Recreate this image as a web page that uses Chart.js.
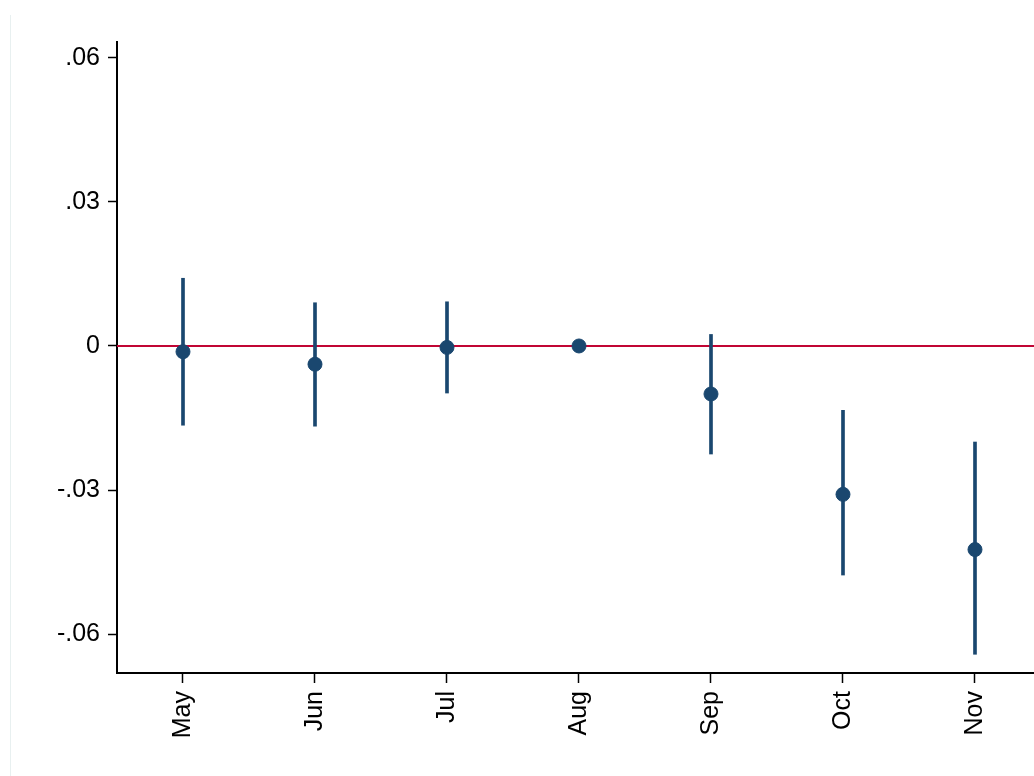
<!DOCTYPE html>
<html>
<head>
<meta charset="utf-8">
<script src="https://cdn.jsdelivr.net/npm/chart.js@4.4.1/dist/chart.umd.min.js"></script>
<style>
  html, body { margin: 0; padding: 0; background: #fff; overflow: hidden; }
  #wrap { position: relative; width: 1034px; height: 776px; overflow: hidden; }
  #edge { position: absolute; left: 10px; top: 15px; bottom: 0; width: 1px; background: #e8f0f0; }
  /* the plot runs past the right edge, so the canvas is a bit wider than the frame */
  #coefChart { position: absolute; left: 0; top: 0; }
</style>
</head>
<body>
<div id="wrap">
  <div id="edge"></div>
  <canvas id="coefChart" width="1042" height="776"></canvas>
</div>
<script>
// Event-study coefficients by month, with confidence bounds
const months = ['May', 'Jun', 'Jul', 'Aug', 'Sep', 'Oct', 'Nov'];
const estimates = [-0.0012, -0.0038, -0.0003, 0, -0.0100, -0.0309, -0.0424];
const ciLower = [-0.0165, -0.0167, -0.0098, null, -0.0225, -0.0477, -0.0642];
const ciUpper = [0.0141, 0.0090, 0.0092, null, 0.0024, -0.0134, -0.0200];
const yTicks = [-0.06, -0.03, 0, 0.03, 0.06];
const refLine = 0;

const navy = '#1a476f';
const cranberry = '#c10534';
const tickFont = { family: 'Liberation Sans, Arial, sans-serif', size: 25 };

function fmtTick(v) {
    if (Math.abs(v) < 1e-9) return '0';
    return v.toFixed(2).replace('0.', '.');
}

// horizontal reference line at zero, behind the markers
const zeroLine = {
    id: 'zeroLine',
    beforeDatasetsDraw(chart) {
        const { ctx, chartArea, scales } = chart;
        const y = scales.y.getPixelForValue(refLine);
        ctx.save();
        ctx.strokeStyle = cranberry;
        ctx.lineWidth = 2;
        ctx.beginPath();
        ctx.moveTo(chartArea.left, y);
        ctx.lineTo(chart.width, y);
        ctx.stroke();
        ctx.restore();
    }
};

const ctx = document.getElementById('coefChart').getContext('2d');

new Chart(ctx, {
    data: {
        datasets: [
            {
                type: 'bar',
                data: months.map((m, i) => ({ x: i, y: ciLower[i] === null ? null : [ciLower[i], ciUpper[i]] })),
                backgroundColor: navy,
                borderWidth: 0,
                barThickness: 3,
                order: 2
            },
            {
                type: 'scatter',
                data: months.map((m, i) => ({ x: i, y: estimates[i] })),
                backgroundColor: navy,
                borderColor: navy,
                pointRadius: 7,
                pointHoverRadius: 7,
                order: 1
            }
        ]
    },
    options: {
        responsive: false,
        animation: false,
        layout: { padding: { top: 42, left: 0, right: 0, bottom: 0 } },
        plugins: {
            legend: { display: false },
            tooltip: { enabled: false }
        },
        scales: {
            x: {
                type: 'linear',
                min: -0.5,
                max: 6.447,
                offset: false,
                afterBuildTicks: axis => { axis.ticks = months.map((m, i) => ({ value: i })); },
                afterFit: axis => {
                    axis.height = 103;
                    axis.paddingLeft = 0;
                    axis.paddingRight = 0;
                },
                ticks: {
                    callback: v => months[v],
                    color: '#000',
                    font: tickFont,
                    minRotation: 90,
                    maxRotation: 90,
                    padding: 8
                },
                grid: {
                    offset: false,
                    drawOnChartArea: false,
                    drawTicks: true,
                    tickLength: 10,
                    tickColor: '#000',
                    tickWidth: 1.5
                },
                border: { color: '#000', width: 2 }
            },
            y: {
                type: 'linear',
                min: -0.0681,
                max: 0.0633,
                afterBuildTicks: axis => { axis.ticks = yTicks.map(v => ({ value: v })); },
                afterFit: axis => { axis.width = 117; },
                ticks: {
                    callback: v => fmtTick(v),
                    color: '#000',
                    font: tickFont,
                    padding: 8
                },
                grid: {
                    drawOnChartArea: false,
                    drawTicks: true,
                    tickLength: 9,
                    tickColor: '#000',
                    tickWidth: 1.5
                },
                border: { color: '#000', width: 2 }
            }
        }
    },
    plugins: [zeroLine]
});
</script>
</body>
</html>
